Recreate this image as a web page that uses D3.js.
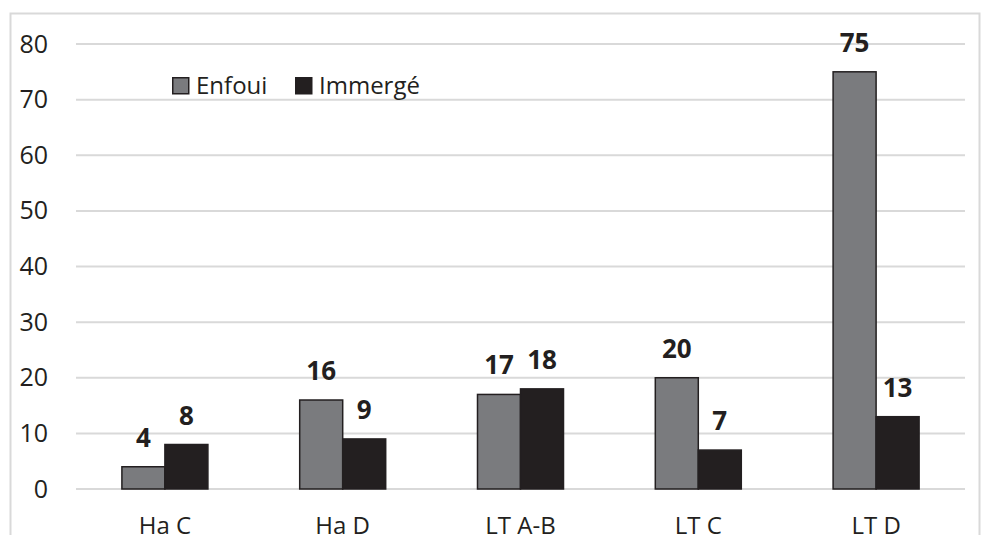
<!DOCTYPE html>
<html>
<head>
<meta charset="utf-8">
<script src="https://cdn.jsdelivr.net/npm/d3@7"></script>
<style>
  body { margin: 0; background: #fff; }
  svg { display: block; font-family: 'Open Sans', sans-serif; }
</style>
</head>
<body>
<svg id="mainChart"></svg>
<script>
var categories = ['Ha C', 'Ha D', 'LT A-B', 'LT C', 'LT D'];
var seriesNames = ['Enfoui', 'Immergé'];
var enfoui = [4, 16, 17, 20, 75];
var immerge = [8, 9, 18, 7, 13];
var yTicks = [0, 10, 20, 30, 40, 50, 60, 70, 80];
var colors = ['#7a7b7e', '#231f20'];

var WIDTH = 982, HEIGHT = 535;
var MARGIN = { LEFT: 76, RIGHT: 17, TOP: 44, BOTTOM: 46 };
var plotW = WIDTH - MARGIN.LEFT - MARGIN.RIGHT,
    plotH = HEIGHT - MARGIN.TOP - MARGIN.BOTTOM;

var svg = d3.select('#mainChart')
    .attr('width', WIDTH)
    .attr('height', HEIGHT);

// chart area border
svg.append('rect')
    .attr('x', 10.5).attr('y', 13.5)
    .attr('width', 969).attr('height', 540)
    .style('fill', 'none')
    .style('stroke', '#d9d9d9')
    .style('stroke-width', 2);

var inner = svg.append('g')
    .attr('transform', 'translate(' + MARGIN.LEFT + ',' + MARGIN.TOP + ')');

var xScale = d3.scaleBand().domain(categories).range([0, plotW]);
var yScale = d3.scaleLinear().domain([0, 80]).range([plotH, 0]);
var barW = 43;
var xSub = d3.scaleBand().domain(seriesNames)
    .range([xScale.bandwidth() / 2 - barW, xScale.bandwidth() / 2 + barW]);

// gridlines
inner.append('g')
    .selectAll('line')
    .data(yTicks)
    .enter().append('line')
    .attr('x1', 0).attr('x2', plotW)
    .attr('y1', function (d) { return yScale(d); })
    .attr('y2', function (d) { return yScale(d); })
    .style('stroke', '#d9d9d9')
    .style('stroke-width', 2);

var yAxis = d3.axisLeft(yScale).tickValues(yTicks).tickSize(0).tickPadding(28);
inner.append('g')
    .call(yAxis)
    .call(function (g) { g.select('.domain').remove(); })
    .selectAll('text')
    .style('font-family', "'Open Sans', sans-serif")
    .style('font-size', '25px')
    .style('fill', '#231f20');

var xAxis = d3.axisBottom(xScale).tickSize(0).tickPadding(28);
inner.append('g')
    .attr('transform', 'translate(0,' + plotH + ')')
    .call(xAxis)
    .call(function (g) { g.select('.domain').remove(); })
    .selectAll('text')
    .style('font-family', "'Open Sans', sans-serif")
    .style('font-size', '24px')
    .style('fill', '#231f20');

var rows = categories.map(function (c, i) {
    return { cat: c, values: [enfoui[i], immerge[i]] };
});

var groups = inner.selectAll('.grp')
    .data(rows)
    .enter().append('g')
    .attr('class', 'grp')
    .attr('transform', function (d) { return 'translate(' + xScale(d.cat) + ',0)'; });

groups.selectAll('rect')
    .data(function (d) { return d.values.map(function (v, j) { return { s: seriesNames[j], v: v, j: j }; }); })
    .enter().append('rect')
    .attr('x', function (d) { return xSub(d.s); })
    .attr('y', function (d) { return yScale(d.v); })
    .attr('width', xSub.bandwidth())
    .attr('height', function (d) { return plotH - yScale(d.v); })
    .style('fill', function (d) { return colors[d.j]; })
    .style('stroke', '#231f20')
    .style('stroke-width', 1.5);

groups.selectAll('.lbl')
    .data(function (d) { return d.values.map(function (v, j) { return { s: seriesNames[j], v: v }; }); })
    .enter().append('text')
    .attr('class', 'lbl')
    .attr('x', function (d) { return xSub(d.s) + xSub.bandwidth() / 2; })
    .attr('y', function (d) { return yScale(d.v) - 20; })
    .attr('text-anchor', 'middle')
    .style('font-size', '26px')
    .style('font-weight', '700')
    .style('fill', '#231f20')
    .text(function (d) { return d.v; });

// legend
var legend = svg.append('g').attr('transform', 'translate(172,77)');
var legX = [0, 123];
seriesNames.forEach(function (name, i) {
    var g = legend.append('g').attr('transform', 'translate(' + legX[i] + ',0)');
    g.append('rect')
        .attr('x', 0.75).attr('y', 0.75)
        .attr('width', 16).attr('height', 16)
        .style('fill', colors[i])
        .style('stroke', '#231f20')
        .style('stroke-width', 1.5);
    g.append('text')
        .attr('x', 24).attr('y', 17)
        .style('font-size', '24px')
        .style('fill', '#231f20')
        .text(name);
});
</script>
</body>
</html>
